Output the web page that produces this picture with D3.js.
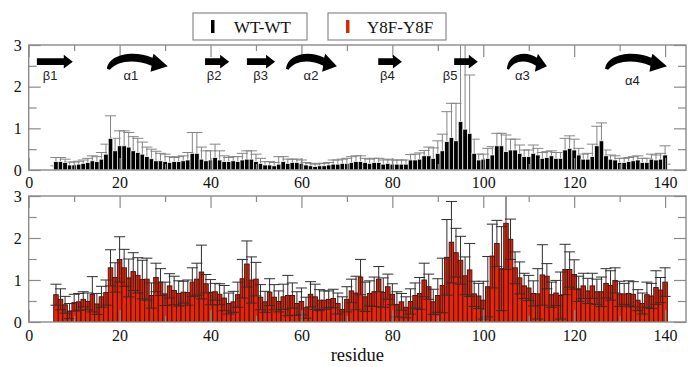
<!DOCTYPE html>
<html><head><meta charset="utf-8">
<script src="https://cdn.jsdelivr.net/npm/d3@7"></script>
<style>body{margin:0;background:#fff}svg{display:block}</style>
</head><body><svg id="c" width="688" height="367"></svg>
<script>
// ---- data ----
const firstResidue = 6;
const wtValues = [
 0.2,0.2,0.18,0.12,0.12,0.14,0.16,0.18,0.22,0.2,0.26,0.38,0.76,0.46,0.58,0.58,0.55,0.46,0.42,0.38,
 0.32,0.27,0.22,0.22,0.2,0.18,0.2,0.2,0.22,0.24,0.4,0.4,0.26,0.22,0.24,0.3,0.24,0.2,0.2,0.22,
 0.2,0.24,0.26,0.26,0.2,0.16,0.12,0.12,0.1,0.14,0.2,0.16,0.18,0.18,0.16,0.12,0.1,0.08,0.1,0.1,
 0.12,0.14,0.14,0.16,0.16,0.18,0.2,
 0.2,0.18,0.16,0.18,0.18,0.14,0.16,0.14,0.14,0.14,0.14,0.24,0.24,0.26,0.34,0.34,0.28,0.4,0.46,0.68,
 0.78,0.7,1.16,0.98,0.88,0.4,0.24,0.26,0.28,0.36,0.58,0.58,0.44,0.48,0.48,0.4,0.32,0.32,0.4,0.36,
 0.28,0.3,0.34,0.28,0.28,0.48,0.52,0.48,0.36,0.26,0.26,0.32,0.58,0.7,0.34,0.26,0.24,0.18,0.18,0.2,
 0.22,0.24,0.18,0.18,0.26,0.24,0.26,0.36];
const wtErrors = [
 0.1,0.1,0.08,0.07,0.07,0.07,0.08,0.1,0.12,0.12,0.16,0.24,0.54,0.3,0.36,0.36,0.35,0.34,0.34,0.29,
 0.23,0.23,0.23,0.18,0.18,0.14,0.1,0.12,0.12,0.18,0.5,0.5,0.29,0.24,0.22,0.32,0.22,0.14,0.1,0.1,
 0.12,0.16,0.2,0.2,0.18,0.12,0.08,0.08,0.08,0.18,0.12,0.1,0.08,0.08,0.08,0.06,0.06,0.06,0.06,0.06,
 0.06,0.1,0.1,0.1,0.12,0.14,0.14,
 0.14,0.1,0.1,0.1,0.1,0.1,0.1,0.1,0.1,0.1,0.1,0.13,0.14,0.15,0.13,0.21,0.25,0.3,0.4,0.72,
 0.82,0.9,2.0,2.1,1.4,0.34,0.14,0.12,0.24,0.2,0.3,0.3,0.4,0.26,0.26,0.2,0.16,0.16,0.2,0.16,
 0.14,0.14,0.12,0.14,0.14,0.28,0.3,0.26,0.16,0.12,0.14,0.3,0.47,0.43,0.14,0.1,0.1,0.1,0.1,0.1,
 0.1,0.1,0.1,0.1,0.12,0.12,0.14,0.22];
const y8fValues = [
 0.65,0.54,0.41,0.26,0.46,0.48,0.54,0.49,0.66,0.43,0.6,0.7,1.29,1.06,1.49,1.29,1.05,1.2,1.11,1.01,
 1.02,0.63,1.06,0.95,0.67,0.86,0.75,0.68,0.71,0.7,0.95,1.02,1.19,0.91,0.71,0.72,0.66,0.57,0.44,0.48,
 0.65,1.03,1.38,1.0,1.02,0.59,0.48,0.71,0.59,0.49,0.6,0.63,0.63,0.44,0.49,0.34,0.66,0.6,0.52,0.52,
 0.54,0.56,0.44,0.3,0.54,0.74,0.69,
 1.07,0.6,0.68,0.72,1.02,0.7,0.84,0.66,0.42,0.48,0.35,0.49,0.63,0.68,1.0,0.84,0.48,0.63,0.87,1.54,
 1.9,1.65,1.47,1.1,1.24,0.67,0.62,0.52,0.84,1.57,1.87,1.27,2.35,1.97,1.29,1.05,0.86,0.81,0.68,0.67,
 1.12,1.09,0.65,0.69,0.63,1.25,1.25,1.13,0.79,0.86,0.74,0.86,0.72,0.72,0.92,0.87,0.99,0.67,0.67,0.68,
 0.66,0.52,0.44,0.65,0.62,0.82,0.76,0.95];
const y8fErrors = [
 0.25,0.25,0.2,0.18,0.2,0.2,0.18,0.2,0.42,0.25,0.25,0.3,0.43,0.35,0.54,0.44,0.45,0.45,0.42,0.46,
 0.5,0.3,0.34,0.32,0.28,0.29,0.34,0.3,0.26,0.3,0.34,0.38,0.64,0.22,0.3,0.2,0.25,0.3,0.25,0.25,
 0.3,0.46,0.55,0.55,0.4,0.3,0.25,0.32,0.3,0.25,0.3,0.48,0.3,0.28,0.32,0.25,0.3,0.3,0.25,0.22,
 0.2,0.22,0.25,0.3,0.3,0.28,0.4,
 0.42,0.35,0.3,0.35,0.3,0.35,0.3,0.25,0.3,0.2,0.25,0.3,0.3,0.38,0.4,0.3,0.3,0.4,0.65,0.9,
 0.97,0.58,0.57,0.45,0.63,0.3,0.3,0.45,0.72,0.76,0.55,1.0,1.1,0.48,0.38,0.38,0.3,0.3,0.3,0.6,
 0.72,0.3,0.3,0.3,0.56,0.6,0.42,0.35,0.3,0.3,0.3,0.3,0.3,0.35,0.35,0.35,0.3,0.3,0.25,0.3,
 0.3,0.25,0.25,0.3,0.3,0.4,0.3,0.34];
const seriesNames = ["WT-WT", "Y8F-Y8F"];
const xTicks = [0,20,40,60,80,100,120,140];
const xMinorTicks = [10,30,50,70,90,110,130];
const yTicks = [0,1,2,3];
const yMinorTicks = [0.5,1.5,2.5];
const xLabel = "residue";
// secondary structure (residue ranges)
const ssElements = [
 {type:"beta", label:"β1", start:1.8, end:9.7, labelAt:4.7},
 {type:"alpha", label:"α1", start:17.2, end:30.6, labelAt:22.5},
 {type:"beta", label:"β2", start:38.8, end:44.1, labelAt:40.8},
 {type:"beta", label:"β3", start:48.0, end:54.2, labelAt:51.0},
 {type:"alpha", label:"α2", start:56.6, end:67.8, labelAt:62.1},
 {type:"beta", label:"β4", start:76.9, end:82.1, labelAt:78.9},
 {type:"beta", label:"β5", start:93.6, end:98.8, labelAt:92.7},
 {type:"alpha", label:"α3", start:105.2, end:114.0, labelAt:108.6},
 {type:"alpha", label:"α4", start:126.8, end:140.4, labelAt:132.8}
];

// ---- layout ----
const SERIF = "'Liberation Serif', 'Times New Roman', 'DejaVu Serif', serif";
const SANS = "'Liberation Sans', Arial, sans-serif";
const svg = d3.select("#c");
const left = 28.7, right = 686;
const x = d3.scaleLinear().domain([0, 144.6]).range([left, right]);
const panels = [
 {name:seriesNames[0], values:wtValues, errors:wtErrors, top:45, bottom:170,
  fill:"#000", stroke:"#fff", strokeW:0.7, err:"#858585", errOnTop:false, labelPad:7},
 {name:seriesNames[1], values:y8fValues, errors:y8fErrors, top:196, bottom:322,
  fill:"#e4270a", stroke:"#480800", strokeW:0.9, err:"#2e2e2e", errOnTop:true, labelPad:8}
];
const frameCol = "#8a8a8a";
const bw = x(1) - x(0);
const capW = 11;

panels.forEach((p, pi) => {
  const y = d3.scaleLinear().domain([0,3]).range([p.bottom, p.top]);
  p.y = y;
  const data = p.values.map((v,i) => ({r:firstResidue+i, v, e:p.errors[i]}));
  const clipId = "clip"+pi;
  svg.append("clipPath").attr("id", clipId).append("rect")
    .attr("x", left).attr("y", p.top).attr("width", right-left).attr("height", p.bottom-p.top);
  const g = svg.append("g").attr("clip-path", `url(#${clipId})`);

  const drawErr = () => {
    const eg = g.append("g").attr("stroke", p.err).attr("stroke-width", 1).attr("fill","none");
    eg.selectAll("path").data(data).join("path")
      .attr("d", d => {
        const cx = x(d.r), yt = y(d.v + d.e), yb = y(Math.max(0, d.v - d.e));
        return `M${cx},${yb}V${yt}M${cx-capW/2},${yt}H${cx+capW/2}M${cx-capW/2},${yb}H${cx+capW/2}`;
      });
  };
  if (!p.errOnTop) drawErr();
  g.append("g").selectAll("rect").data(data).join("rect")
    .attr("x", d => x(d.r - 0.5)).attr("width", bw)
    .attr("y", d => y(d.v)).attr("height", d => y(0) - y(d.v))
    .attr("fill", p.fill).attr("stroke", p.stroke).attr("stroke-width", p.strokeW);
  if (p.errOnTop) drawErr();

  svg.append("rect").attr("x", left).attr("y", p.top).attr("width", right-left)
    .attr("height", p.bottom-p.top).attr("fill","none").attr("stroke", frameCol).attr("stroke-width", 1.4);

  const styleAxis = (sel) => { sel.select(".domain").remove();
    sel.selectAll("line").attr("stroke", frameCol).attr("stroke-width", 1.2);
    sel.selectAll("text").style("font-family", SERIF).style("font-size", "16px").attr("fill", "#111"); };
  const fmt = d3.format("d");

  svg.append("g").attr("transform", `translate(0,${p.bottom})`)
    .call(d3.axisBottom(x).tickValues(xTicks).tickSizeInner(-12).tickSizeOuter(0).tickPadding(p.labelPad).tickFormat(fmt))
    .call(styleAxis);
  svg.append("g").attr("transform", `translate(0,${p.bottom})`)
    .call(d3.axisBottom(x).tickValues(xMinorTicks).tickSizeInner(-6).tickSizeOuter(0).tickFormat(""))
    .call(styleAxis);
  svg.append("g").attr("transform", `translate(0,${p.top})`)
    .call(d3.axisTop(x).tickValues(xTicks).tickSizeInner(-12).tickSizeOuter(0).tickFormat(""))
    .call(styleAxis);
  svg.append("g").attr("transform", `translate(0,${p.top})`)
    .call(d3.axisTop(x).tickValues(xMinorTicks).tickSizeInner(-6).tickSizeOuter(0).tickFormat(""))
    .call(styleAxis);
  svg.append("g").attr("transform", `translate(${left},0)`)
    .call(d3.axisLeft(y).tickValues(yTicks).tickSizeInner(-12).tickSizeOuter(0).tickPadding(7).tickFormat(fmt))
    .call(styleAxis);
  svg.append("g").attr("transform", `translate(${left},0)`)
    .call(d3.axisLeft(y).tickValues(yMinorTicks).tickSizeInner(-8).tickSizeOuter(0).tickFormat(""))
    .call(styleAxis);
  svg.append("g").attr("transform", `translate(${right},0)`)
    .call(d3.axisRight(y).tickValues(yTicks).tickSizeInner(-12).tickSizeOuter(0).tickFormat(""))
    .call(styleAxis);
  svg.append("g").attr("transform", `translate(${right},0)`)
    .call(d3.axisRight(y).tickValues(yMinorTicks).tickSizeInner(-8).tickSizeOuter(0).tickFormat(""))
    .call(styleAxis);
});

svg.append("text").attr("x", (left+right)/2).attr("y", 361).attr("text-anchor","middle")
  .style("font-family", SERIF).style("font-size","18.5px").attr("fill","#111").text(xLabel);

// secondary structure in top panel
const yT = panels[0].y;
const ssG = svg.append("g");
ssElements.forEach(s => {
  const x0 = x(s.start), x1 = x(s.end);
  if (s.type === "beta") {
    const yc = yT(2.6), hl = 9;
    ssG.append("path").attr("fill","#000")
      .attr("d", `M${x0},${yc-3.3}H${x1-hl}V${yc-6.8}L${x1},${yc}L${x1-hl},${yc+6.8}V${yc+3.3}H${x0}Z`);
  } else {
    const w = x1 - x0, yB = yT(2.43), xb = x1 - 0.25*w;
    ssG.append("path").attr("fill","#000")
      .attr("d", `M${x0},${yB}C${x0+0.03*w},${yB-15} ${x0+0.45*w},${yB-19} ${xb},${yB-11}` +
        `L${xb+1},${yB-15}L${x1},${yB-2.5}L${xb-2},${yB+3}L${xb-1},${yB-3}` +
        `C${x0+0.45*w},${yB-10} ${x0+0.18*w},${yB-8} ${x0+0.05*w},${yB+1}Z`);
  }
  const ly = s.label === "α4" ? yT(2.05) : yT(2.17);
  ssG.append("text").attr("x", x(s.labelAt)).attr("y", ly).attr("text-anchor","middle")
    .style("font-family", SANS).style("font-size","13px").attr("fill","#222").text(s.label);
});

// legend
const legend = [
  {name:seriesNames[0], color:"#000", bx:193, bw:114, ix:211, tx:234},
  {name:seriesNames[1], color:"#d42a0a", bx:328, bw:118, ix:346, tx:367}
];
const lg = svg.append("g");
legend.forEach(l => {
  lg.append("rect").attr("x", l.bx).attr("y", 13).attr("width", l.bw).attr("height", 27)
    .attr("fill","#fff").attr("stroke", frameCol).attr("stroke-width", 1.2);
  lg.append("rect").attr("x", l.ix).attr("y", 20).attr("width", 3.5).attr("height", 13).attr("fill", l.color);
  lg.append("text").attr("x", l.tx).attr("y", 33).style("font-family", SERIF).style("font-size","17px")
    .attr("fill","#111").text(l.name);
});
</script></body></html>
